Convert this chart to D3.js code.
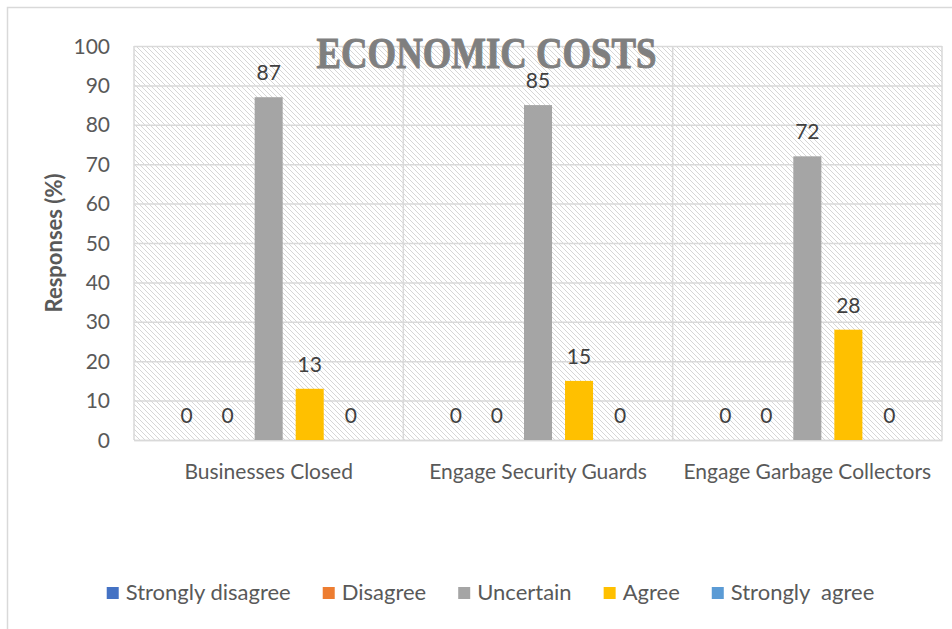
<!DOCTYPE html>
<html>
<head>
<meta charset="utf-8">
<script src="https://cdn.jsdelivr.net/npm/d3@7"></script>
<style>
  html, body { margin: 0; padding: 0; background: #fff; }
  svg { display: block; }
  text { font-family: Lato, "Open Sans", sans-serif; }
</style>
</head>
<body>
<svg id="chart" width="952" height="629"></svg>
<script>
// Survey responses (%) per economic cost item
const categories = ["Businesses Closed", "Engage Security Guards", "Engage Garbage Collectors"];
const seriesNames = ["Strongly disagree", "Disagree", "Uncertain", "Agree", "Strongly  agree"];
const stronglyDisagree = [0, 0, 0];
const disagree = [0, 0, 0];
const uncertain = [87, 85, 72];
const agree = [13, 15, 28];
const stronglyAgree = [0, 0, 0];
const seriesColors = ["#4472C4", "#ED7D31", "#A5A5A5", "#FFC000", "#5B9BD5"];
const yTicks = [0, 10, 20, 30, 40, 50, 60, 70, 80, 90, 100];
const titleText = "ECONOMIC COSTS";
const yAxisTitle = "Responses (%)";

const seriesValues = [stronglyDisagree, disagree, uncertain, agree, stronglyAgree];

const svg = d3.select("#chart");
const plot = { left: 134, right: 942, top: 46, bottom: 440 };
const textColor = "#595959";
const gridColor = "#d9d9d9";

// outer chart frame
svg.append("rect")
  .attr("x", 7.5).attr("y", 7.5)
  .attr("width", 980).attr("height", 660)
  .attr("fill", "#fff")
  .attr("stroke", gridColor).attr("stroke-width", 1.5);

// diagonal hatch used for the plot background
const defs = svg.append("defs");
const pat = defs.append("pattern")
  .attr("id", "hatch")
  .attr("patternUnits", "userSpaceOnUse")
  .attr("width", 5).attr("height", 5);
pat.append("rect").attr("width", 5).attr("height", 5).attr("fill", "#fff");
pat.append("path")
  .attr("d", "M-1,-1 L6,6 M-1,4 L1,6 M4,-1 L6,1")
  .attr("stroke", "#d6d6d6").attr("stroke-width", 1);

const x0 = d3.scaleBand().domain(categories).range([plot.left, plot.right]).padding(0);
const x1 = d3.scaleBand().domain(d3.range(seriesNames.length))
  .range([0, x0.bandwidth()]).paddingInner(0.317).paddingOuter(0.94);
const y = d3.scaleLinear().domain([0, 100]).range([plot.bottom, plot.top]);

svg.append("rect")
  .attr("x", plot.left).attr("y", plot.top)
  .attr("width", plot.right - plot.left).attr("height", plot.bottom - plot.top)
  .attr("fill", "url(#hatch)");

// horizontal gridlines
const yAxis = d3.axisLeft(y).tickValues(yTicks).tickSize(-(plot.right - plot.left)).tickPadding(24);
const gy = svg.append("g").attr("transform", `translate(${plot.left},0)`).call(yAxis);
gy.select(".domain").remove();
gy.selectAll(".tick line").attr("stroke", gridColor).attr("stroke-width", 1.5);
gy.selectAll(".tick text")
  .attr("fill", textColor)
  .style("font-size", "21px")
  .attr("dy", "0.34em");

// vertical category separators
const sepX = categories.map(c => x0(c)).concat([plot.right]);
svg.append("g").selectAll("line").data(sepX).join("line")
  .attr("x1", d => d).attr("x2", d => d)
  .attr("y1", plot.top).attr("y2", plot.bottom)
  .attr("stroke", gridColor).attr("stroke-width", 1.5);

// category labels
const xAxis = d3.axisBottom(x0).tickSize(0).tickPadding(24);
const gx = svg.append("g").attr("transform", `translate(0,${plot.bottom})`).call(xAxis);
gx.select(".domain").attr("stroke", gridColor).attr("stroke-width", 1.5);
gx.selectAll(".tick text").attr("fill", textColor).style("font-size", "21px");

// bars and value labels
const groups = svg.append("g").selectAll("g").data(categories).join("g")
  .attr("transform", c => `translate(${x0(c)},0)`);
groups.each(function(c, ci) {
  const g = d3.select(this);
  const vals = seriesValues.map((s, si) => ({ si, v: s[ci] }));
  g.selectAll("rect").data(vals).join("rect")
    .attr("x", d => x1(d.si))
    .attr("width", x1.bandwidth())
    .attr("y", d => y(d.v))
    .attr("height", d => y(0) - y(d.v))
    .attr("fill", d => seriesColors[d.si]);
  g.selectAll("text").data(vals).join("text")
    .attr("x", d => x1(d.si) + x1.bandwidth() / 2)
    .attr("y", d => y(d.v) - 17)
    .attr("text-anchor", "middle")
    .attr("fill", "#404040")
    .style("font-size", "21px")
    .text(d => d.v);
});

// title
svg.append("text")
  .attr("x", 486.5).attr("y", 67.7)
  .attr("text-anchor", "middle")
  .attr("textLength", 340).attr("lengthAdjust", "spacingAndGlyphs")
  .style("font-family", "'Liberation Serif', 'DejaVu Serif', serif")
  .style("font-weight", "bold")
  .style("font-size", "44px")
  .attr("fill", "#7f7f7f")
  .attr("stroke", "#7f7f7f").attr("stroke-width", 1)
  .text(titleText);

// y axis title
svg.append("text")
  .attr("transform", `translate(62,${(plot.top + plot.bottom) / 2}) rotate(-90)`)
  .attr("text-anchor", "middle")
  .attr("fill", textColor)
  .style("font-size", "22px")
  .style("font-weight", "bold")
  .text(yAxisTitle);

// legend
const legend = svg.append("g");
let lx = 0;
seriesNames.forEach((name, i) => {
  const item = legend.append("g").attr("transform", `translate(${lx},0)`);
  item.append("rect").attr("x", 0).attr("y", -13).attr("width", 12).attr("height", 12)
    .attr("fill", seriesColors[i]);
  const t = item.append("text").attr("x", 19).attr("y", 0)
    .attr("fill", textColor)
    .style("font-size", "22px")
    .style("white-space", "pre")
    .text(name);
  lx += 19 + t.node().getComputedTextLength() + 32;
});
const legendWidth = lx - 32;
legend.attr("transform", `translate(${490.5 - legendWidth / 2},${600})`);
</script>
</body>
</html>
